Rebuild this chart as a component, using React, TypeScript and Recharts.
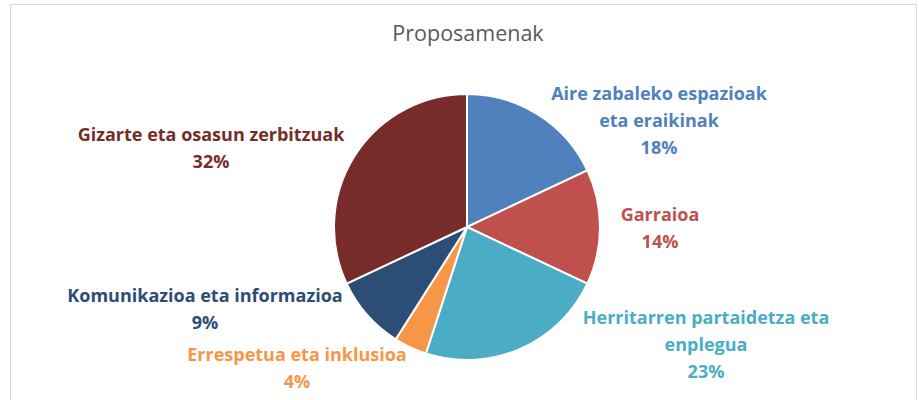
import React from 'react'
import { PieChart, Pie, Cell } from 'recharts'

const categories = [
  'Aire zabaleko espazioak eta eraikinak',
  'Garraioa',
  'Herritarren partaidetza eta enplegua',
  'Errespetua  eta inklusioa',
  'Komunikazioa eta informazioa',
  'Gizarte eta osasun zerbitzuak',
]
const values = [18, 14, 23, 4, 9, 32]
const labelLines = [
  ['Aire zabaleko espazioak', 'eta eraikinak'],
  ['Garraioa'],
  ['Herritarren partaidetza eta', 'enplegua'],
  ['Errespetua  eta inklusioa'],
  ['Komunikazioa eta informazioa'],
  ['Gizarte eta osasun zerbitzuak'],
]
const colors = ['#4F81BD', '#C0504D', '#4BACC6', '#F79646', '#2C4D75', '#772C2A']

// label block centre, relative to the pie centre (Excel "best fit" placement)
const labelPos = [
  [192, -107],
  [193, 0],
  [239, 117],
  [-170, 140],
  [-262, 81],
  [-256, -80],
]

const data = categories.map((name, i) => ({ name, value: values[i] }))
const total = values.reduce((a, b) => a + b, 0)

const FONT = '"Open Sans", Lato, sans-serif'
const LINE_H = 27

const renderLabel = (props: any) => {
  const { cx, cy, index, value } = props
  const lines = [...labelLines[index], Math.round((value / total) * 100) + '%']
  const x = cx + labelPos[index][0]
  const y0 = cy + labelPos[index][1] - ((lines.length - 1) * LINE_H) / 2
  return (
    <text
      x={x}
      y={y0}
      fill={colors[index]}
      textAnchor="middle"
      dominantBaseline="central"
      fontFamily={FONT}
      fontWeight={700}
      fontSize={18}
    >
      {lines.map((l, i) => (
        <tspan key={i} x={x} y={y0 + i * LINE_H}>
          {l}
        </tspan>
      ))}
    </text>
  )
}

export default function App() {
  return (
    <div style={{ position: 'absolute', left: 0, top: 0, width: 919, height: 400, background: '#fff', overflow: 'hidden' }}>
      <div
        style={{
          position: 'absolute',
          left: 10,
          top: 4,
          width: 907,
          height: 420,
          border: '1px solid #D9D9D9',
          boxSizing: 'border-box',
        }}
      />
      <div
        style={{
          position: 'absolute',
          left: 0,
          width: 936,
          top: 18,
          textAlign: 'center',
          fontFamily: FONT,
          fontSize: 21.5,
          color: '#595959',
        }}
      >
        Proposamenak
      </div>
      <div style={{ position: 'absolute', left: 0, top: 0 }}>
        <PieChart width={919} height={400} margin={{ top: 0, right: 0, bottom: 0, left: 0 }}>
          <Pie
            data={data}
            dataKey="value"
            nameKey="name"
            cx={467}
            cy={227}
            outerRadius={133}
            startAngle={90}
            endAngle={-270}
            stroke="#fff"
            strokeWidth={2}
            label={renderLabel}
            labelLine={false}
            isAnimationActive={false}
          >
            {data.map((d, i) => (
              <Cell key={d.name} fill={colors[i]} />
            ))}
          </Pie>
        </PieChart>
      </div>
    </div>
  )
}
